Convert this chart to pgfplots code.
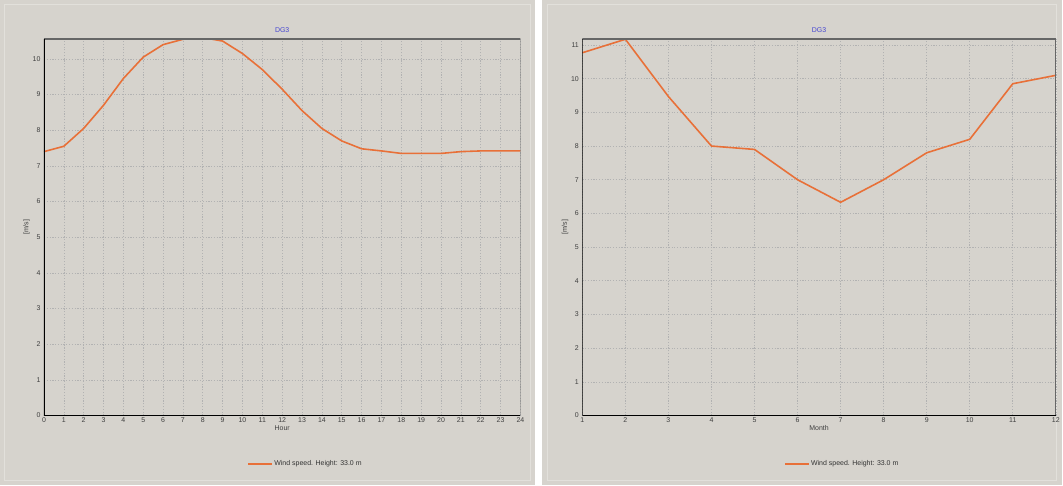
\documentclass[border=0pt]{standalone}
\usepackage{pgfplots}
\pgfplotsset{compat=1.18}
\usepackage{fontspec}
\setmainfont{Liberation Sans}
\definecolor{panel}{RGB}{214,211,205}
\definecolor{panelhi}{RGB}{226,224,219}
\definecolor{wind}{RGB}{232,112,56}
\definecolor{ttl}{RGB}{70,70,210}
\pgfplotsset{
  mystyle/.style={
    scale only axis, width=477bp, height=377bp,
    axis line style={draw=none},
    tick style={draw=none},
    grid=major,
    major grid style={gray!60, line width=0.6pt, dash pattern=on 1.2pt off 1.6pt},
    ymin=0,
    ytick={0,1,...,11},
    ticklabel style={font=\fontsize{7}{8}\selectfont, text=black!75},
    xticklabel style={yshift=1pt},
    label style={font=\fontsize{7}{8}\selectfont, text=black!75},
    title style={font=\fontsize{7}{8}\selectfont, text=ttl, yshift=-3pt},
    title={DG3},
    ylabel={[m/s]},
    ylabel style={yshift=-4pt},
    xlabel style={yshift=4pt},
    /pgf/number format/assume math mode=true,
    legend style={at={(axis description cs:0.55,-0.128)}, anchor=center, draw=none, fill=none,
      font=\fontsize{7}{8}\selectfont, text=black!80, legend cell align=left},
    legend image code/.code={\fill[fill=wind, draw=none, solid] (0bp,-0.8bp) rectangle (24bp,0.8bp);},
  }
}
\begin{document}
\begin{tikzpicture}[x=1bp,y=1bp]
\fill[panel] (0,0) rectangle (1063,486);
\draw[panelhi, line width=1bp] (5,5) rectangle (531,481);
\draw[panelhi, line width=1bp] (548,5) rectangle (1058,481);
\fill[white] (536,0) rectangle (543,486);
\begin{axis}[mystyle, at={(44bp,70bp)}, anchor=south west, width=477bp,
  xmin=0, xmax=24, xtick={0,1,...,24}, ymax=10.56, xlabel={Hour}]
\addplot[wind, line width=1.6pt] coordinates {
(0,7.40) (1,7.55) (2,8.05) (3,8.70) (4,9.45) (5,10.05) (6,10.40) (7,10.55) (8,10.60)
(9,10.50) (10,10.15) (11,9.70) (12,9.15) (13,8.55) (14,8.05) (15,7.70) (16,7.48)
(17,7.42) (18,7.35) (19,7.35) (20,7.35) (21,7.40) (22,7.42) (23,7.42) (24,7.42)};
\addlegendentry{Wind speed. Height: 33.0 m}
\draw[gray!80!black, line width=1.2pt] (rel axis cs:0,1) -- (rel axis cs:1,1) -- (rel axis cs:1,0);
\draw[black, line width=1.6pt] (rel axis cs:0,1) -- (rel axis cs:0,0) -- (rel axis cs:1,0);
\end{axis}
\begin{axis}[mystyle, at={(583bp,70bp)}, anchor=south west, width=474bp,
  xmin=1, xmax=12, xtick={1,2,...,12}, ymax=11.18, xlabel={Month}]
\addplot[wind, line width=1.6pt] coordinates {
(1,10.77) (2,11.17) (3,9.47) (4,8.00) (5,7.90) (6,7.00) (7,6.33) (8,7.00)
(9,7.80) (10,8.20) (11,9.85) (12,10.10)};
\addlegendentry{Wind speed. Height: 33.0 m}
\draw[gray!80!black, line width=1.2pt] (rel axis cs:0,1) -- (rel axis cs:1,1) -- (rel axis cs:1,0);
\draw[black, line width=1.6pt] (rel axis cs:0,1) -- (rel axis cs:0,0) -- (rel axis cs:1,0);
\end{axis}
\end{tikzpicture}
\end{document}
